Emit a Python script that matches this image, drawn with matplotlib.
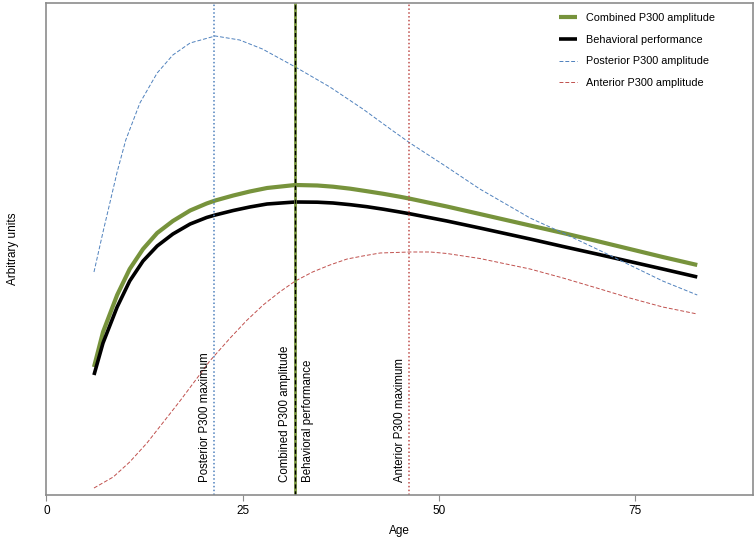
import numpy as np
import matplotlib
matplotlib.use("Agg")
import matplotlib.pyplot as plt

plt.rcParams["font.family"] = ["Liberation Sans", "DejaVu Sans"]

# values (arbitrary units)
age_main = [6.05, 7.2, 9.0, 10.6, 12.3, 14.1, 16.1, 18.3, 20.4, 21.5, 23.8,
            25.9, 28.1, 31.7, 34.5, 36.5, 38.7, 40.8, 42.9, 45.0, 46.3, 51.0,
            55.2, 61.6, 65.8, 70.1, 74.3, 78.5, 82.9]
combined = [128, 163, 200, 226, 246, 262, 274, 284.5, 291.5, 294.5, 299.5,
            303.5, 307, 310, 309.5, 308.3, 306.3, 303.8, 301.2, 298.3, 296.3,
            288.5, 281, 269.5, 262, 254, 246, 238, 230]
behavioral = [120, 152, 188, 214, 234, 249, 261, 271, 277.5, 280, 284.5,
              288, 291, 293, 292.8, 292, 290.3, 288.3, 285.8, 283, 281.2,
              274, 267, 256, 248.5, 241, 233.5, 226, 218]

age_post = [6.05, 7.2, 9.0, 10.1, 11.9, 14.1, 16.1, 18.3, 21.5, 24.6, 27.5,
            31.7, 36.1, 40.3, 43.8, 46.3, 51.0, 55.2, 61.6, 65.8, 70.1, 74.3,
            78.5, 82.9]
posterior = [223, 263, 323, 355, 392, 422, 440, 452, 459, 455, 446,
             428, 408, 386, 366, 352, 328, 306, 277, 262, 246, 230,
             214, 200]

age_ant = [6.05, 8.5, 10.6, 12.8, 14.8, 17.0, 19.1, 20.8, 23.4, 25.5, 27.6,
           29.7, 31.7, 33.9, 36.1, 38.3, 40.3, 42.5, 46.3, 48.9, 51.0, 55.2,
           61.6, 65.8, 70.1, 74.3, 78.5, 82.9]
anterior = [7, 18, 33, 52, 72, 94, 116, 134, 157, 174.5, 190,
            203, 214, 223, 230, 236, 239, 242, 243, 243, 241.5, 236.5,
            226, 217, 207, 197, 188, 181]

posterior_max = 21.4
combined_max = 31.6
anterior_max = 46.2

green = "#77933c"
blue = "#4f81bd"
red = "#c0504d"
grey = "#8c8c8c"

fig = plt.figure(figsize=(7.56, 5.41), dpi=100)
ax = fig.add_axes([0.0615, 0.085, 0.9345, 0.9095])

ax.plot(age_main, combined, color=green, lw=3.0,
        label="Combined P300 amplitude", solid_capstyle="butt")
ax.plot(age_main, behavioral, color="black", lw=2.6,
        label="Behavioral performance", solid_capstyle="butt")
ax.plot(age_post, posterior, color=blue, lw=0.7, ls=(0, (4, 2)),
        label="Posterior P300 amplitude")
ax.plot(age_ant, anterior, color=red, lw=0.7, ls=(0, (4, 2)),
        label="Anterior P300 amplitude")

ax.axvline(posterior_max, color=blue, lw=1.1, ls=(0, (1, 1.5)))
ax.axvline(anterior_max, color=red, lw=1.1, ls=(0, (1, 1.5)))
ax.axvline(combined_max, color=green, lw=2.0)
ax.axvline(combined_max, color="black", lw=1.0, ls=(0, (3, 2)))

fs = 8.3
ax.text(posterior_max - 0.4, 13, "Posterior P300 maximum", rotation=90,
        ha="right", va="bottom", fontsize=fs)
ax.text(combined_max - 0.4, 13, "Combined P300 amplitude", rotation=90,
        ha="right", va="bottom", fontsize=fs)
ax.text(combined_max + 0.9, 13, "Behavioral performance", rotation=90,
        ha="left", va="bottom", fontsize=fs)
ax.text(anterior_max - 0.4, 13, "Anterior P300 maximum", rotation=90,
        ha="right", va="bottom", fontsize=fs)

ax.set_xlim(0, 90)
ax.set_ylim(0, 492)
ax.set_xticks([0, 25, 50, 75])
ax.set_yticks([])
ax.tick_params(axis="x", direction="out", length=4, color=grey,
               labelsize=8.5, pad=3)
for s in ax.spines.values():
    s.set_color(grey)
    s.set_linewidth(1.2)

ax.set_xlabel("Age", fontsize=8.5, labelpad=6)
ax.set_ylabel("Arbitrary units", fontsize=8.5, labelpad=20)

ax.legend(loc="upper left", bbox_to_anchor=(0.725, 0.980), frameon=False,
          fontsize=7.8, handlelength=1.67, handletextpad=0.83,
          labelspacing=1.09, borderpad=0, borderaxespad=0)

fig.savefig("out.png", dpi=100)
